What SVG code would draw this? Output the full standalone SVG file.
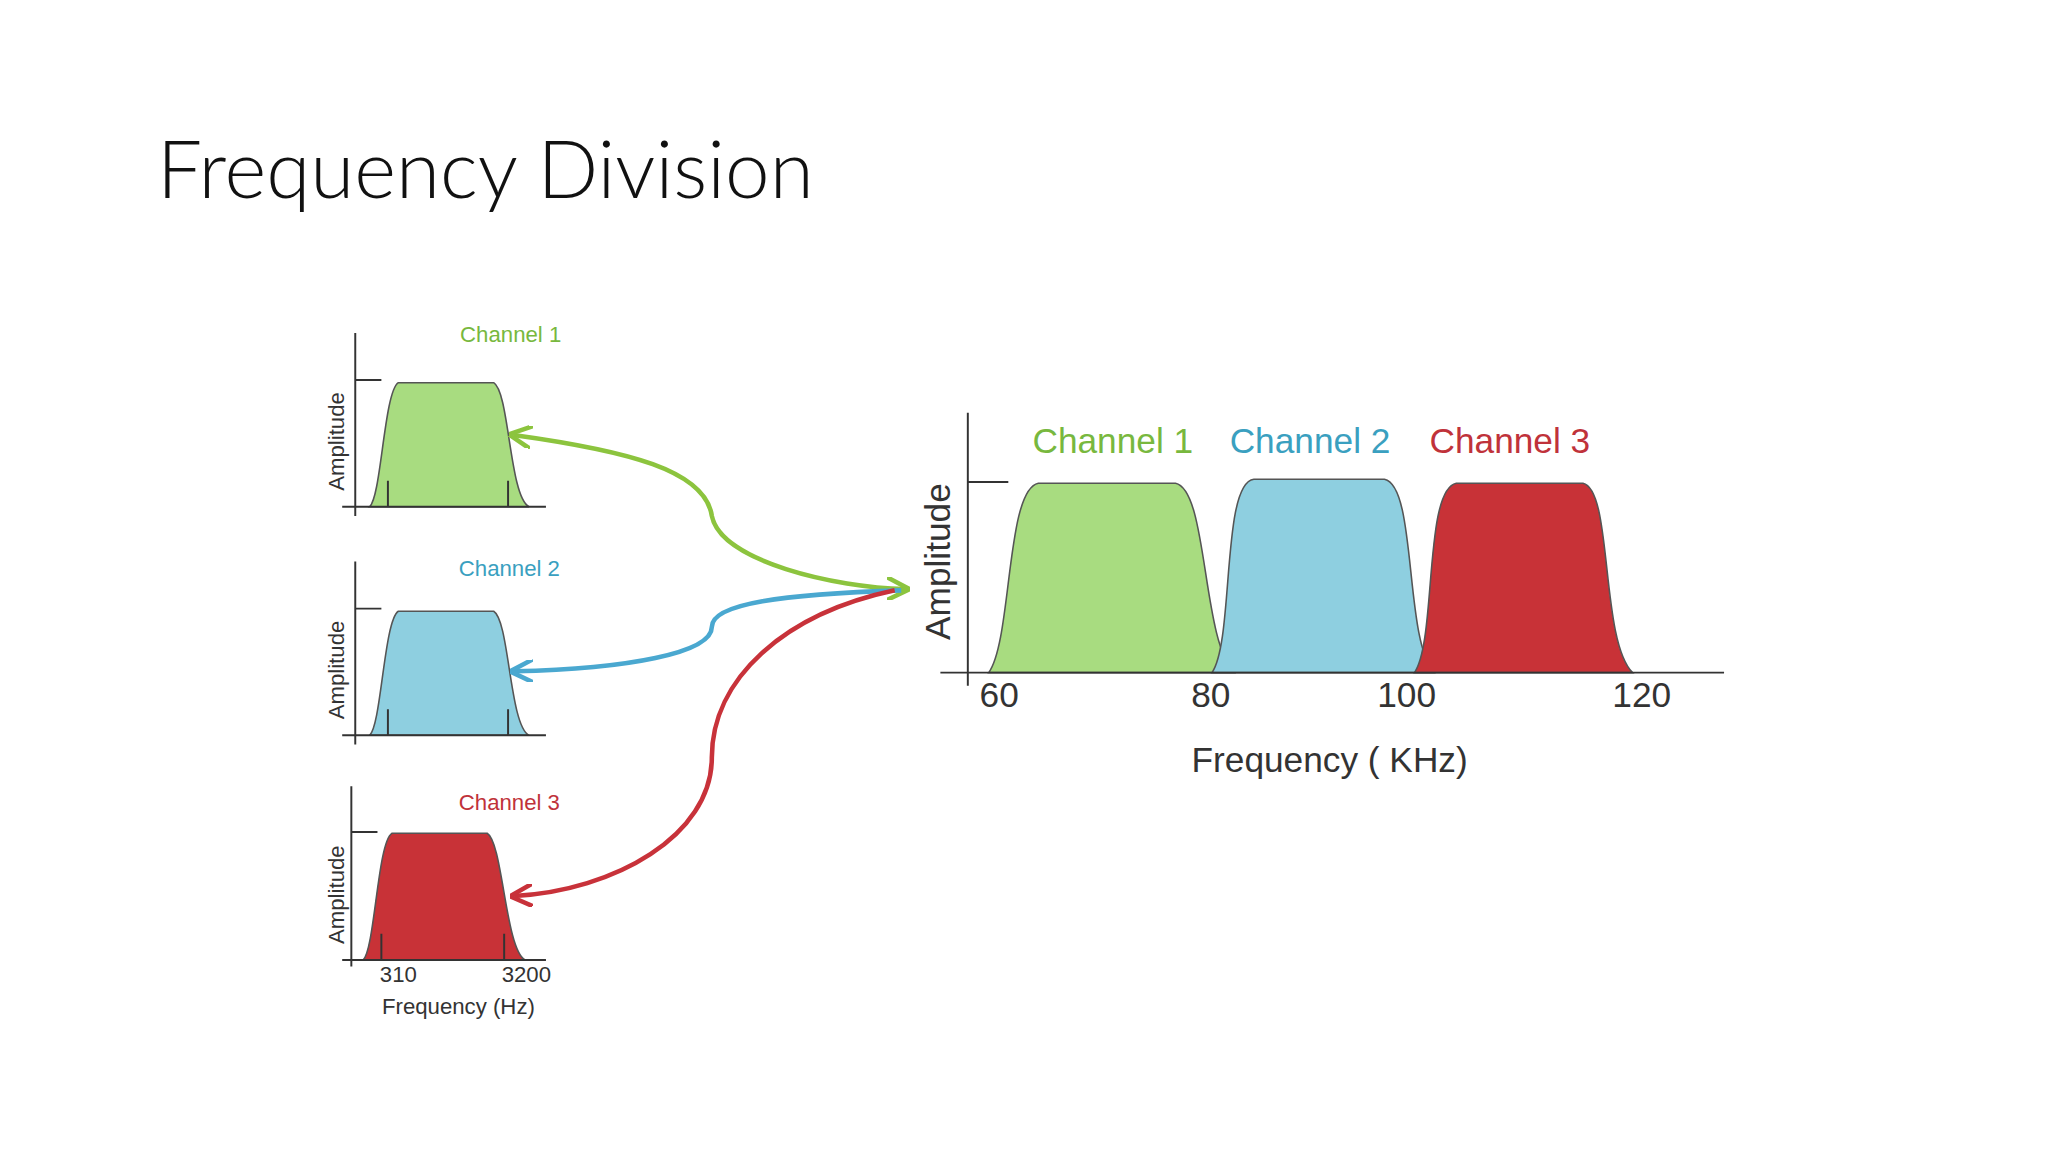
<svg xmlns="http://www.w3.org/2000/svg" width="2048" height="1152" viewBox="0 0 2048 1152">
<style>
.ax{stroke:#333;stroke-width:1.5;fill:none}
.sh{stroke:#555;stroke-width:1.2}
.sm{font-family:"Liberation Sans",Arial,sans-serif;font-size:17px;fill:#333}
.bg{font-family:"Liberation Sans",Arial,sans-serif;font-size:27px;fill:#333}
.g{fill:#a8dc80}.b{fill:#8ecfe0}.r{fill:#c83237}
.lg{fill:#78b83e}.lb{fill:#3aa0c0}.lr{fill:#c0323a}
</style>
<defs>
<marker id="ag" viewBox="0 0 10 10" refX="8" refY="5" markerWidth="5" markerHeight="5" orient="auto-start-reverse"><path d="M0,0 L10,5 L0,10" fill="none" stroke="#8cc43e" stroke-width="2"/></marker>
<marker id="ab" viewBox="0 0 10 10" refX="8" refY="5" markerWidth="5" markerHeight="5" orient="auto-start-reverse"><path d="M0,0 L10,5 L0,10" fill="none" stroke="#4aa8d0" stroke-width="2"/></marker>
<marker id="ar" viewBox="0 0 10 10" refX="8" refY="5" markerWidth="5" markerHeight="5" orient="auto-start-reverse"><path d="M0,0 L10,5 L0,10" fill="none" stroke="#c8323a" stroke-width="2"/></marker>
</defs>
<rect width="2048" height="1152" fill="#fff"/>
<text x="157" y="198" font-family="Lato,'Open Sans',sans-serif" font-weight="300" font-size="80" fill="#111">Frequency Division</text>
<g transform="scale(1.3061)">
<g id="chart1">
<path class="g sh" d="M283,388 C292,380 294,300 305,293 L378,293 C390,300 390,380 405,388 Z"/>
<path class="ax" d="M272,255 V395 M262,388 H418 M272,291 H292 M297,368 V388 M389,368 V388"/>
<text class="sm" transform="translate(263,338) rotate(-90)" text-anchor="middle">Amplitude</text>
<text class="sm lg" x="391" y="262" text-anchor="middle">Channel 1</text>
</g>
<g id="chart2">
<path class="b sh" d="M283,563 C292,555 294,475 305,468 L378,468 C390,475 390,555 405,563 Z"/>
<path class="ax" d="M272,430 V570 M262,563 H418 M272,466 H292 M297,543 V563 M389,543 V563"/>
<text class="sm" transform="translate(263,513) rotate(-90)" text-anchor="middle">Amplitude</text>
<text class="sm lb" x="390" y="441" text-anchor="middle">Channel 2</text>
</g>
<g id="chart3">
<path class="r sh" d="M278,735 C287,727 289,645 300,638 L373,638 C385,645 387,727 402,735 Z"/>
<path class="ax" d="M269,602 V740 M262,735 H418 M269,637 H289 M292,715 V735 M386,715 V735"/>
<text class="sm" transform="translate(263,685) rotate(-90)" text-anchor="middle">Amplitude</text>
<text class="sm lr" x="390" y="620" text-anchor="middle">Channel 3</text>
<text class="sm" x="305" y="752" text-anchor="middle">310</text>
<text class="sm" x="403" y="752" text-anchor="middle">3200</text>
<text class="sm" x="351" y="776" text-anchor="middle">Frequency (Hz)</text>
</g>
<g id="big">
<path class="g sh" d="M757,515 C775,490 770,375 795,370 L900,370 C925,375 920,490 945,515 Z"/>
<path class="b sh" d="M928,515 C945,490 935,370 960,367 L1060,367 C1085,372 1075,490 1098,515 Z"/>
<path class="r sh" d="M1083,515 C1100,490 1090,375 1115,370 L1212,370 C1235,375 1225,490 1250,515 Z"/>
<path class="ax" d="M741,316 V525 M720,515 H1320 M741,369 H772" stroke-width="2"/>
<text class="bg" transform="translate(727,430) rotate(-90)" text-anchor="middle">Amplitude</text>
<text class="bg lg" x="852" y="347" text-anchor="middle">Channel 1</text>
<text class="bg lb" x="1003" y="347" text-anchor="middle">Channel 2</text>
<text class="bg lr" x="1156" y="347" text-anchor="middle">Channel 3</text>
<text class="bg" x="765" y="541" text-anchor="middle">60</text>
<text class="bg" x="927" y="541" text-anchor="middle">80</text>
<text class="bg" x="1077" y="541" text-anchor="middle">100</text>
<text class="bg" x="1257" y="541" text-anchor="middle">120</text>
<text class="bg" x="1018" y="591" text-anchor="middle">Frequency ( KHz)</text>
</g>
<g id="connectors" fill="none" stroke-width="3.5">
<path d="M393,333 C480,345 540,360 545,395 C552,430 640,450 693,451" stroke="#8cc43e" marker-start="url(#ag)" marker-end="url(#ag)"/>
<path d="M690,452 C600,455 545,462 545,480 C545,500 480,512 394,514" stroke="#4aa8d0" marker-end="url(#ab)"/>
<path d="M685,452 C600,470 545,520 545,580 C545,640 470,682 394,686" stroke="#c8323a" marker-end="url(#ar)"/>
</g>
</g>
</svg>
